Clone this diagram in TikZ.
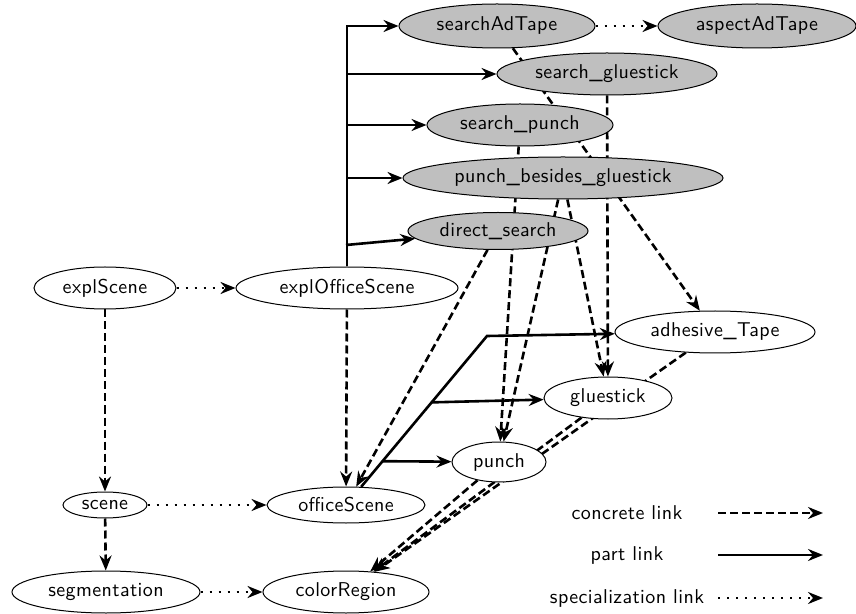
\documentclass[tikz,border=0pt]{standalone}
\usepackage{fontspec}
\newfontfamily\labelfont{lmsans10-regular.otf}[LetterSpace=2]
\usetikzlibrary{shapes.geometric, arrows.meta, positioning, calc, backgrounds}

\begin{document}
\begin{tikzpicture}[x=0.5pt, y=-0.5pt, >={Stealth[length=7.5pt, width=6pt, inset=2.5pt]}, font=\labelfont]
    % Styles
    \tikzstyle{cls} = [ellipse, draw, line width=0.5pt, fill=white, inner sep=0pt]
    \tikzstyle{task} = [cls, fill=black!25]
    \tikzstyle{line} = [draw, line width=1.3pt, ->]
    \tikzstyle{concrete} = [line, dash pattern=on 4pt off 2pt]
    \tikzstyle{part} = [line]
    \tikzstyle{special} = [line, dash pattern=on 1.2pt off 3.3pt]

    \useasboundingbox (0,0) rectangle (856,614);

    % Nodes
    \node [task, minimum width=98pt, minimum height=22pt] (searchAdTape) at (497,26) {searchAdTape};
    \node [task, minimum width=99pt, minimum height=22pt] (aspectAdTape) at (757,26) {aspectAdTape};
    \node [task, minimum width=110pt, minimum height=21pt] (searchGluestick) at (607,74) {search\_gluestick};
    \node [task, minimum width=93pt, minimum height=21pt] (searchPunch) at (520,125) {search\_punch};
    \node [task, minimum width=160pt, minimum height=21pt] (punchBesides) at (563,178) {punch\_besides\_gluestick};
    \node [task, minimum width=90pt, minimum height=18.5pt] (directSearch) at (498,231) {direct\_search};

    \node [cls, minimum width=71pt, minimum height=21pt] (explScene) at (105,288) {explScene};
    \node [cls, minimum width=111pt, minimum height=21pt] (explOfficeScene) at (347,288) {explOfficeScene};
    \node [cls, minimum width=100pt, minimum height=21pt] (adhesiveTape) at (715,332) {adhesive\_Tape};
    \node [cls, minimum width=64pt, minimum height=21pt] (gluestick) at (608,398) {gluestick};
    \node [cls, minimum width=47pt, minimum height=20pt] (punch) at (499,462) {punch};
    \node [cls, minimum width=42pt, minimum height=13pt] (scene) at (105,505) {scene};
    \node [cls, minimum width=79pt, minimum height=18pt] (officeScene) at (346,505) {officeScene};
    \node [cls, minimum width=94pt, minimum height=21pt] (segmentation) at (106,592) {segmentation};
    \node [cls, minimum width=83pt, minimum height=21pt] (colorRegion) at (346,592) {colorRegion};

    \coordinate (dsFoot) at (346,245);
    \coordinate (bend) at (487,336);
    \path (officeScene) -- (bend) coordinate [pos=0.56] (glueFoot) coordinate [pos=0.17] (punchFoot);

    % Edges
    \begin{scope}[on background layer]
        \draw [special] (explScene) -- (explOfficeScene);
        \draw [special] (scene) -- (officeScene);
        \draw [special] (segmentation) -- (colorRegion);
        \draw [special] (searchAdTape) -- (aspectAdTape);

        \draw [concrete] (explScene) -- (scene);
        \draw [concrete] (scene) -- (segmentation);
        \draw [concrete] (explOfficeScene) -- (officeScene);
        \draw [concrete] (searchAdTape) -- (adhesiveTape);
        \draw [concrete] (searchGluestick) -- (gluestick);
        \draw [concrete] (searchPunch) -- (punch);
        \draw [concrete] (punchBesides) -- (punch);
        \draw [concrete] (punchBesides) -- (gluestick);
        \draw [concrete] (directSearch) -- (officeScene);
        \draw [concrete] (adhesiveTape) -- (colorRegion);
        \draw [concrete] (gluestick) -- (colorRegion);
        \draw [concrete] (punch) -- (colorRegion);

        \draw [part] (explOfficeScene) |- (searchAdTape);
        \draw [part] (explOfficeScene.north |- searchGluestick) -- (searchGluestick);
        \draw [part] (explOfficeScene.north |- searchPunch) -- (searchPunch);
        \draw [part] (explOfficeScene.north |- punchBesides) -- (punchBesides);
        \draw [part] (dsFoot) -- (directSearch);
        \draw [part] (officeScene) -- (bend) -- (adhesiveTape);
        \draw [part] (glueFoot) -- (gluestick);
        \draw [part] (punchFoot) -- (punch);
    \end{scope}

    % Legend
    \node (lConcrete) at (627,513) {concrete link};
    \node (lPart) at (627,555) {part link};
    \node (lSpecial) at (627,598) {specialization link};
    \coordinate (lFrom) at (718,0);
    \coordinate (lTo) at (823,0);
    \draw [concrete] (lConcrete -| lFrom) -- (lConcrete -| lTo);
    \draw [part] (lPart -| lFrom) -- (lPart -| lTo);
    \draw [special] (lSpecial -| lFrom) -- (lSpecial -| lTo);
\end{tikzpicture}
\end{document}
